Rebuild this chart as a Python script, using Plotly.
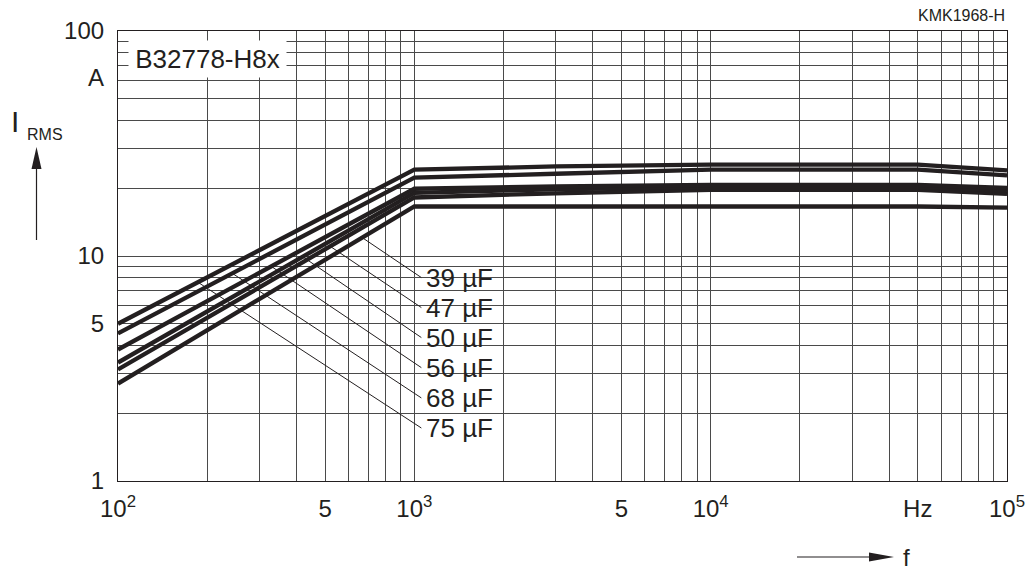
import plotly.graph_objects as go
import numpy as np

# ---------------- data ----------------
freq = [100, 1000, 3000, 10000, 50000, 100000]          # Hz
cap_labels = ["39 µF", "47 µF", "50 µF", "56 µF", "68 µF", "75 µF"]
I_39 = [2.71, 16.6, 16.6, 16.6, 16.6, 16.4]
I_47 = [3.13, 18.2, 19.0, 19.7, 19.7, 18.9]
I_50 = [3.36, 19.1, 19.8, 20.3, 20.3, 19.5]
I_56 = [3.84, 19.9, 20.4, 20.7, 20.7, 20.1]
I_68 = [4.53, 22.3, 23.2, 24.2, 24.2, 22.8]
I_75 = [5.00, 24.2, 25.0, 25.5, 25.5, 24.0]
series = [I_39, I_47, I_50, I_56, I_68, I_75]

# where each leader line touches its curve (Hz) and where its label sits (A)
leader_f = [667, 520, 420, 329, 243, 186]
label_I = [8.02, 5.90, 4.34, 3.19, 2.34, 1.72]
label_f = 1056

x_tickvals = [100, 500, 1000, 5000, 10000, 50000, 100000]
x_ticktext = ["10<sup>2</sup>", "5", "10<sup>3</sup>", "5", "10<sup>4</sup>", "Hz", "10<sup>5</sup>"]
y_tickvals = [1, 5, 10, 62, 100]
y_ticktext = ["1", "5", "10", "A", "100"]

x_grid = [m * 10 ** e for e in (2, 3, 4) for m in range(1, 10)] + [100000]
y_grid = [m * 10 ** e for e in (0, 1) for m in range(1, 10)] + [100]

INK = "#231f20"
FONT = "Liberation Sans, Arial, Helvetica, sans-serif"

# page geometry (the html body adds an 8 px margin around the figure)
PAGE_W, PAGE_H, BODY = 1035, 571, 8
W, H = PAGE_W - BODY, PAGE_H - BODY
# plot area in page pixels
L, R, T, B = 118, 1007, 31, 481


def px(xp):
    return (xp - L) / (R - L)


def py(yp):
    return (B - yp) / (B - T)


fig = go.Figure()

for ys in series:
    fig.add_trace(go.Scatter(x=freq, y=ys, mode="lines",
                             line=dict(color=INK, width=4.3), hoverinfo="skip",
                             showlegend=False))

# leader lines
for ys, fs, li in zip(series, leader_f, label_I):
    yi = 10 ** np.interp(np.log10(fs), np.log10(freq), np.log10(ys))
    fig.add_trace(go.Scatter(x=[fs, label_f], y=[yi, li], mode="lines",
                             line=dict(color=INK, width=1), hoverinfo="skip",
                             showlegend=False))

# white panel behind capacitance labels
fig.add_shape(type="rect", xref="x", yref="y", layer="between",
              x0=np.log10(1008), x1=np.log10(1968), y0=np.log10(1.40), y1=np.log10(9.9),
              fillcolor="white", line=dict(width=0))

for lab, li in zip(cap_labels, label_I):
    fig.add_annotation(x=np.log10(label_f), y=np.log10(li), xref="x", yref="y",
                       text=lab, showarrow=False, xanchor="left", yanchor="middle",
                       xshift=3, font=dict(family=FONT, size=26, color=INK))

# type box
fig.add_annotation(x=px(128), y=py(59), xref="paper", yref="paper",
                   text="B32778-H8x", showarrow=False, xanchor="left", yanchor="middle",
                   bgcolor="white", width=157, height=36, borderpad=0,
                   font=dict(family=FONT, size=26, color=INK))

# drawing number
fig.add_annotation(x=px(1007), y=py(16), xref="paper", yref="paper",
                   text="KMK1968-H", showarrow=False, xanchor="right", yanchor="middle",
                   font=dict(family=FONT, size=16, color=INK))

# y-axis title I_RMS with arrow
fig.add_annotation(x=px(21), y=py(122), xref="paper", yref="paper", text="I",
                   showarrow=False, xanchor="right", yanchor="middle",
                   font=dict(family=FONT, size=30, color=INK))
fig.add_annotation(x=px(25), y=py(134), xref="paper", yref="paper", text="RMS",
                   showarrow=False, xanchor="left", yanchor="middle",
                   font=dict(family=FONT, size=16, color=INK))
fig.add_shape(type="line", xref="paper", yref="paper",
              x0=px(36.5), x1=px(36.5), y0=py(240), y1=py(165),
              line=dict(color=INK, width=1.2))
fig.add_shape(type="path", xref="paper", yref="paper",
              path=f"M {px(36.5)} {py(147)} L {px(31.5)} {py(169)} L {px(41.5)} {py(169)} Z",
              fillcolor=INK, line=dict(width=0))

# x-axis title f with arrow
fig.add_shape(type="line", xref="paper", yref="paper",
              x0=px(797), x1=px(875), y0=py(557), y1=py(557),
              line=dict(color=INK, width=1.2))
fig.add_shape(type="path", xref="paper", yref="paper",
              path=f"M {px(894)} {py(557)} L {px(869)} {py(552.5)} L {px(869)} {py(561.5)} Z",
              fillcolor=INK, line=dict(width=0))
fig.add_annotation(x=px(901), y=py(557), xref="paper", yref="paper", text="f",
                   showarrow=False, xanchor="left", yanchor="middle",
                   font=dict(family=FONT, size=24, color=INK))

axis_common = dict(showgrid=False, zeroline=False, ticks="", showline=True,
                   linecolor=INK, linewidth=1.2, mirror=True, automargin=False,
                   tickfont=dict(family=FONT, size=24, color=INK))

fig.update_xaxes(type="log", range=[2, 5], tickmode="array",
                 tickvals=x_tickvals, ticktext=x_ticktext, ticklabelstandoff=6,
                 minor=dict(tickmode="array", tickvals=x_grid, showgrid=True,
                            gridcolor="#4a4a4a", gridwidth=1, ticks=""),
                 **axis_common)
fig.update_yaxes(type="log", range=[0, 2], tickmode="array",
                 tickvals=y_tickvals, ticktext=y_ticktext, ticklabelstandoff=8,
                 minor=dict(tickmode="array", tickvals=y_grid, showgrid=True,
                            gridcolor="#4a4a4a", gridwidth=1, ticks=""),
                 **axis_common)

fig.update_layout(width=W, height=H, plot_bgcolor="white", paper_bgcolor="white",
                  margin=dict(l=L - BODY, r=PAGE_W - R, t=T - BODY, b=PAGE_H - B),
                  showlegend=False, font=dict(family=FONT, color=INK))

fig.write_html("out.html")
